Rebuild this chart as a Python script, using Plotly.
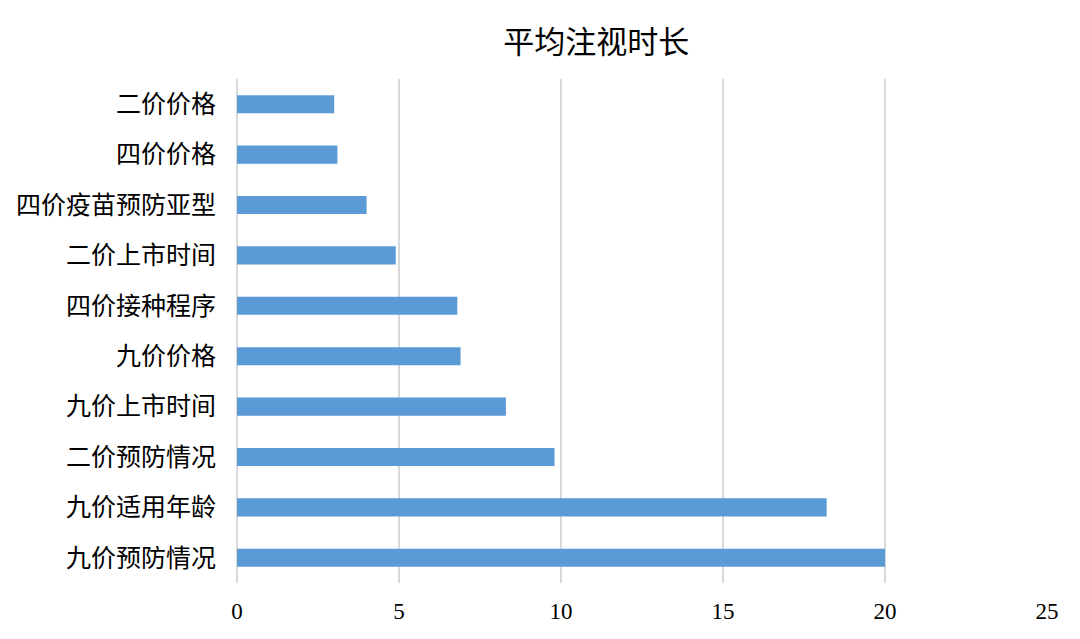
import plotly.graph_objects as go

categories = ["二价价格", "四价价格", "四价疫苗预防亚型", "二价上市时间", "四价接种程序",
              "九价价格", "九价上市时间", "二价预防情况", "九价适用年龄", "九价预防情况"]
values = [3.0, 3.1, 4.0, 4.9, 6.8, 6.9, 8.3, 9.8, 18.2, 20.0]
x_ticks = [0, 5, 10, 15, 20, 25]

font_family = "Liberation Serif, Noto Sans CJK SC, serif"

fig = go.Figure(go.Bar(
    x=values, y=categories, orientation="h",
    marker=dict(color="#5B9BD5", line=dict(width=0)),
    width=0.36,
))

fig.update_layout(
    width=1080, height=639,
    paper_bgcolor="white", plot_bgcolor="white",
    margin=dict(l=237, r=33, t=79, b=56, autoexpand=False),
    title=dict(text="平均注视时长", x=0.552, xanchor="center",
               y=1 - 42 / 639, yref="container", yanchor="middle",
               font=dict(family=font_family, size=31, color="#000000")),
    font=dict(family=font_family, color="#000000"),
    showlegend=False,
    bargap=0.64,
)
fig.update_xaxes(range=[0, 25], tickvals=x_ticks, showgrid=True, gridcolor="#D9D9D9",
                 gridwidth=1.5, zeroline=True, zerolinecolor="#D9D9D9", zerolinewidth=1.5,
                 showline=False, ticks="", tickfont=dict(size=23, family=font_family),
                 ticklabelstandoff=12, automargin=False)
fig.update_yaxes(autorange="reversed", showgrid=False, showline=False, ticks="",
                 tickfont=dict(size=25, family=font_family), ticklabelstandoff=20,
                 automargin=False)

fig.write_html("out.html", config={"displayModeBar": False},
               post_script="document.body.style.margin='0';document.body.style.overflow='hidden';")
